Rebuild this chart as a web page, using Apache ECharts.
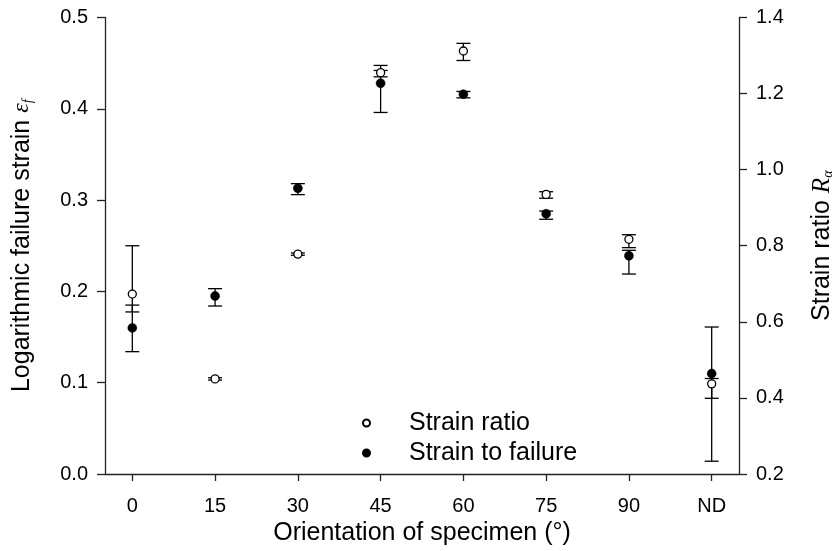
<!DOCTYPE html>
<html>
<head>
<meta charset="utf-8">
<script src="https://cdn.jsdelivr.net/npm/echarts@6/dist/echarts.min.js"></script>
<style>
html,body{margin:0;padding:0;background:#fff;}
#chart{width:835px;height:551px;}
</style>
</head>
<body>
<div id="chart"></div>
<script>
// Categories (orientation of specimen)
var categories = ['0', '15', '30', '45', '60', '75', '90', 'ND'];

// Strain ratio R_alpha (right axis)
var ratioValues = [0.673, 0.450, 0.778, 1.255, 1.312, 0.935, 0.817, 0.437];
var ratioLow    = [0.626, 0.447, 0.775, 1.244, 1.287, 0.925, 0.795, 0.399];
var ratioHigh   = [0.800, 0.453, 0.781, 1.274, 1.332, 0.942, 0.829, 0.451];

// Logarithmic failure strain (left axis)
var strainValues = [0.160, 0.195, 0.313, 0.428, 0.416, 0.285, 0.239, 0.110];
var strainLow    = [0.134, 0.184, 0.306, 0.396, 0.412, 0.279, 0.219, 0.014];
var strainHigh   = [0.185, 0.203, 0.318, 0.442, 0.419, 0.288, 0.245, 0.161];

// Tick labels
var leftTicks = [0.0, 0.1, 0.2, 0.3, 0.4, 0.5];
var rightTicks = [0.2, 0.4, 0.6, 0.8, 1.0, 1.2, 1.4];

var FONT = 'Liberation Sans, Arial, sans-serif';
var AX = '#222';

function pts(vals) { return vals.map(function (v, i) { return [i, v]; }); }
function bars(lo, hi) { return lo.map(function (v, i) { return [i, lo[i], hi[i]]; }); }

function errRender(params, api) {
  var x = api.value(0);
  var p1 = api.coord([x, api.value(1)]);
  var p2 = api.coord([x, api.value(2)]);
  var hw = 7;
  var st = { stroke: '#000', lineWidth: 1.3 };
  return {
    type: 'group',
    children: [
      { type: 'line', shape: { x1: p1[0], y1: p1[1], x2: p2[0], y2: p2[1] }, style: st },
      { type: 'line', shape: { x1: p1[0] - hw, y1: p1[1], x2: p1[0] + hw, y2: p1[1] }, style: st },
      { type: 'line', shape: { x1: p2[0] - hw, y1: p2[1], x2: p2[0] + hw, y2: p2[1] }, style: st }
    ]
  };
}

var chart = echarts.init(document.getElementById('chart'), null, { renderer: 'canvas' });

var option = {
  backgroundColor: '#fff',
  animation: false,
  textStyle: { fontFamily: FONT },
  grid: { left: 105, right: 96, top: 17.5, bottom: 77, containLabel: false, outerBoundsMode: 'none' },
  legend: {
    orient: 'vertical',
    left: 357,
    top: 404,
    itemWidth: 7,
    itemHeight: 7,
    itemGap: 2,
    selectedMode: false,
    data: ['Strain ratio', 'Strain to failure'],
    textStyle: { fontFamily: FONT, fontSize: 25, color: '#000', padding: [0, 0, 0, 34], lineHeight: 28 }
  },
  xAxis: {
    type: 'value',
    min: -0.33,
    max: 7.33,
    name: 'Orientation of specimen (°)',
    nameLocation: 'middle',
    nameGap: 43,
    nameTextStyle: { fontFamily: FONT, fontSize: 25, color: '#000' },
    axisLine: { show: true, onZero: false, lineStyle: { color: AX, width: 1.3 } },
    axisTick: { show: true, inside: false, length: 7, customValues: [0, 1, 2, 3, 4, 5, 6, 7], lineStyle: { color: AX, width: 1.3 } },
    axisLabel: {
      show: true, margin: 22, fontSize: 20, color: '#000', fontFamily: FONT,
      customValues: [0, 1, 2, 3, 4, 5, 6, 7],
      formatter: function (v) { return categories[Math.round(v)]; }
    },
    splitLine: { show: false }
  },
  yAxis: [
    {
      type: 'value',
      position: 'left',
      min: leftTicks[0],
      max: leftTicks[leftTicks.length - 1],
      interval: 0.1,
      name: 'Logarithmic failure strain {e|ε}{f|f}',
      nameLocation: 'middle',
      nameRotate: 90,
      nameGap: 70,
      nameTextStyle: {
        fontFamily: FONT, fontSize: 25, color: '#000',
        rich: {
          e: { fontFamily: 'Liberation Serif, serif', fontStyle: 'italic', fontSize: 24, color: '#000' },
          f: { fontFamily: 'Liberation Serif, serif', fontStyle: 'italic', fontSize: 14, color: '#000', padding: [12, 0, 0, 0] }
        }
      },
      axisLine: { show: true, onZero: false, lineStyle: { color: AX, width: 1.3 } },
      axisTick: { show: true, inside: false, length: 8, lineStyle: { color: AX, width: 1.3 } },
      axisLabel: { margin: 17, fontSize: 20, color: '#000', fontFamily: FONT, formatter: function (v) { return v.toFixed(1); } },
      splitLine: { show: false }
    },
    {
      type: 'value',
      position: 'right',
      min: rightTicks[0],
      max: rightTicks[rightTicks.length - 1],
      interval: 0.2,
      name: 'Strain ratio {r|R}{a|α}',
      nameLocation: 'middle',
      nameRotate: 90,
      nameGap: 70,
      nameTextStyle: {
        fontFamily: FONT, fontSize: 25, color: '#000',
        rich: {
          r: { fontFamily: 'Liberation Serif, serif', fontStyle: 'italic', fontSize: 25, color: '#000' },
          a: { fontFamily: 'Liberation Serif, serif', fontStyle: 'italic', fontSize: 14, color: '#000', padding: [12, 0, 0, 0] }
        }
      },
      axisLine: { show: true, onZero: false, lineStyle: { color: AX, width: 1.3 } },
      axisTick: { show: true, inside: false, length: 8, lineStyle: { color: AX, width: 1.3 } },
      axisLabel: { margin: 17, fontSize: 20, color: '#000', fontFamily: FONT, formatter: function (v) { return v.toFixed(1); } },
      splitLine: { show: false }
    }
  ],
  series: [
    {
      name: 'Strain ratio err',
      type: 'custom',
      yAxisIndex: 1,
      renderItem: errRender,
      encode: { x: 0, y: [1, 2] },
      data: bars(ratioLow, ratioHigh),
      z: 2
    },
    {
      name: 'Strain to failure err',
      type: 'custom',
      yAxisIndex: 0,
      renderItem: errRender,
      encode: { x: 0, y: [1, 2] },
      data: bars(strainLow, strainHigh),
      z: 2
    },
    {
      name: 'Strain ratio',
      type: 'scatter',
      yAxisIndex: 1,
      symbol: 'circle',
      symbolSize: 8,
      itemStyle: { color: '#fff', borderColor: '#000', borderWidth: 1.3, opacity: 1 },
      data: pts(ratioValues),
      z: 5
    },
    {
      name: 'Strain to failure',
      type: 'scatter',
      yAxisIndex: 0,
      symbol: 'circle',
      symbolSize: 9,
      itemStyle: { color: '#000', borderColor: '#000', borderWidth: 0.5, opacity: 1 },
      data: pts(strainValues),
      z: 5
    }
  ]
};

chart.setOption(option);
</script>
</body>
</html>
